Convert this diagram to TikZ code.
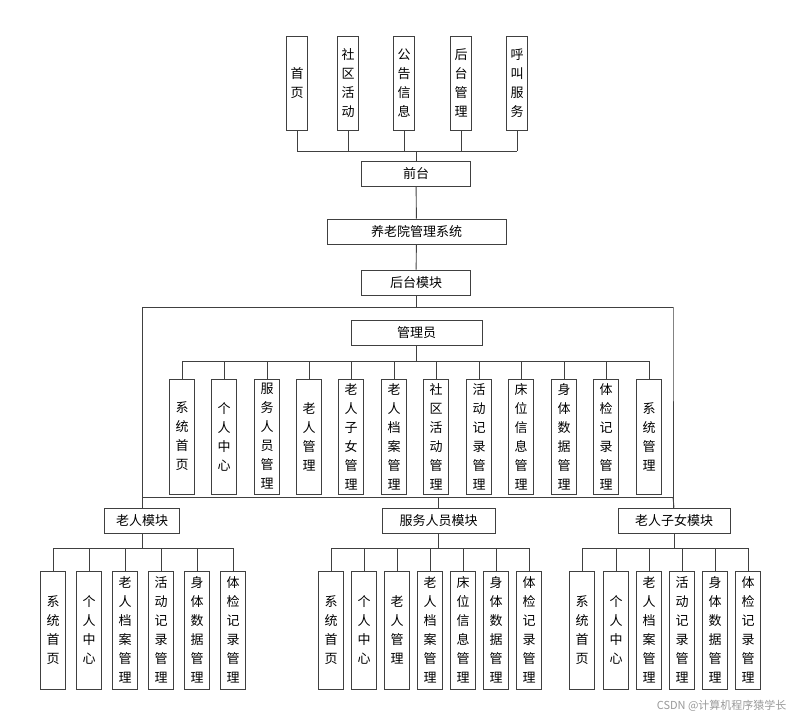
\documentclass[tikz,border=0pt]{standalone}
\usepackage{fontspec}
\setmainfont{Noto Sans CJK SC}
\begin{document}
\begin{tikzpicture}[x=1pt,y=-1pt,
  box/.style={draw=black!75,line width=0.9pt,fill=white,inner sep=0pt,font=\fontsize{13}{19}\selectfont},
  hbox/.style={box,minimum height=25pt},
  vbox/.style={box,minimum width=21pt,align=center},
  ln/.style={draw=black!75,line width=0.9pt}]
\useasboundingbox (0,0) rectangle (792,721);
% top row
\foreach \n/\x/\t in {t1/297/首\\页,t2/348/社\\区\\活\\动,t3/404/公\\告\\信\\息,t4/461/后\\台\\管\\理,t5/517/呼\\叫\\服\\务}
  \node[vbox,minimum height=94pt] (\n) at (\x,83) {\t};
\node[hbox,minimum width=109pt] (qt) at (416,173.5) {前台};
\node[hbox,minimum width=179pt] (sys) at (416.5,231.5) {养老院管理系统};
\node[hbox,minimum width=109pt] (ht) at (416,282.5) {后台模块};
\coordinate (tb) at (416,151);
\foreach \n in {t1,t2,t3,t4,t5} \draw[ln] (\n.south) -- (\n.south|-tb);
\draw[ln] (t1.south|-tb) -- (t5.south|-tb);
\draw[ln] (tb) -- (qt.north);
\draw[ln] (qt) -- (sys) (sys) -- (ht);
% frame
\coordinate (fl) at (142,307);
\coordinate (fr) at (673,307);
\draw[ln] (ht.south) -- (416,307);
\draw[ln] (fl) -- (fr);
\node[hbox,minimum width=131pt] (gly) at (416.5,333) {管理员};
\draw[ln] (gly.south) -- (416.5,361);
\foreach \n/\x/\t in {
 a1/182/系\\统\\首\\页, a2/224/个\\人\\中\\心, a3/267/服\\务\\人\\员\\管\\理, a4/309/老\\人\\管\\理,
 a5/351/老\\人\\子\\女\\管\\理, a6/394/老\\人\\档\\案\\管\\理, a7/436/社\\区\\活\\动\\管\\理, a8/479/活\\动\\记\\录\\管\\理,
 a9/521/床\\位\\信\\息\\管\\理, a10/564/身\\体\\数\\据\\管\\理, a11/606/体\\检\\记\\录\\管\\理, a12/649/系\\统\\管\\理}{
  \node[vbox,minimum width=25pt,minimum height=115pt] (\n) at (\x,436.5) {\t};
  \draw[ln] (\n.north) -- (\x,361);
}
\draw[ln] (a1.north|-0,361) -- (a12.north|-0,361);
\coordinate (bl) at (142,497);
\coordinate (br) at (673,497);
\draw[ln] (fl) -- (bl) -- (br) -- (fr) -- (673,508);
\node[hbox,minimum width=75pt] (m1) at (142,520.5) {老人模块};
\node[hbox,minimum width=113pt] (m2) at (438.5,520.5) {服务人员模块};
\node[hbox,minimum width=112pt] (m3) at (674,520.5) {老人子女模块};
\draw[ln] (bl) -- (m1.north);
\draw[ln] (438.5,497) -- (m2.north);
\draw[ln] (673,497) -- (m3.north);
% groups
\foreach \m/\p/\lst in {
 m1/b/{53/系\\统\\首\\页,89/个\\人\\中\\心,125/老\\人\\档\\案\\管\\理,161/活\\动\\记\\录\\管\\理,197/身\\体\\数\\据\\管\\理,233/体\\检\\记\\录\\管\\理},
 m2/c/{331/系\\统\\首\\页,364/个\\人\\中\\心,397/老\\人\\管\\理,430/老\\人\\档\\案\\管\\理,463/床\\位\\信\\息\\管\\理,496/身\\体\\数\\据\\管\\理,529/体\\检\\记\\录\\管\\理},
 m3/d/{582/系\\统\\首\\页,616/个\\人\\中\\心,649/老\\人\\档\\案\\管\\理,682/活\\动\\记\\录\\管\\理,715/身\\体\\数\\据\\管\\理,748/体\\检\\记\\录\\管\\理}}{
  \draw[ln] (\m.south) -- (\m.south|-0,548);
  \foreach \x/\t [count=\i] in \lst {
    \node[vbox,minimum width=25pt,minimum height=118pt] (\p\i) at (\x,630) {\t};
    \draw[ln] (\p\i.north) -- (\x,548);
  }
}
\draw[ln] (b1.north|-0,548) -- (b6.north|-0,548);
\draw[ln] (c1.north|-0,548) -- (c7.north|-0,548);
\draw[ln] (d1.north|-0,548) -- (d6.north|-0,548);
\node[text=black!40,font=\fontsize{11}{13}\selectfont,anchor=east] (wm) at (790,706) {CSDN @计算机程序猿学长};
\end{tikzpicture}
\end{document}
